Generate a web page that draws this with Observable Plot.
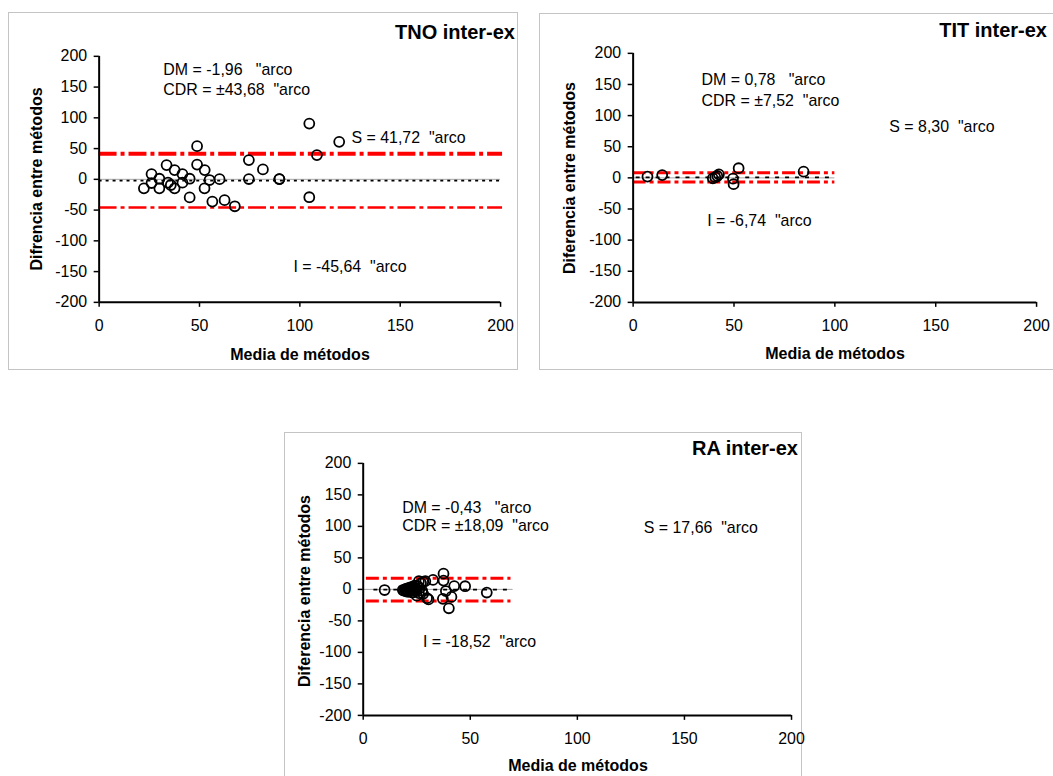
<!DOCTYPE html>
<html><head><meta charset="utf-8">
<script src="https://cdn.jsdelivr.net/npm/d3@7"></script>
<script src="https://cdn.jsdelivr.net/npm/@observablehq/plot@0.6"></script>
<style>
body{margin:0;width:1053px;height:776px;overflow:hidden;background:#fff;position:relative;font-family:"Liberation Sans",Arial,sans-serif;color:#000;}
.panel{position:absolute;box-sizing:border-box;border:1px solid #c4c4c4;}
.panel svg{position:absolute;left:-1px;top:-1px;overflow:visible;}
.panel svg text{white-space:pre;}
.title{position:absolute;font-weight:bold;font-size:20px;line-height:1;white-space:nowrap;}
.ytitle,.xtitle{position:absolute;font-weight:bold;font-size:16px;line-height:1;white-space:nowrap;}
.ytitle{transform:translate(-50%,-50%) rotate(-90deg);}
.xtitle{transform:translate(-50%,-50%);}
</style>
</head><body>
<script>
// ---- data ----
const panelNames = ["TNO inter-ex", "TIT inter-ex", "RA inter-ex"];
const yTitles = ["Difrencia entre métodos", "Diferencia entre métodos", "Diferencia entre métodos"];
const xTitle = "Media de métodos";
const dmValues = [-1.96, 0.78, -0.43];
const cdrValues = [43.68, 7.52, 18.09];
const sValues = [41.72, 8.30, 17.66];
const iValues = [-45.64, -6.74, -18.52];
const xTicks = [0, 50, 100, 150, 200];
const yTicks = [-200, -150, -100, -50, 0, 50, 100, 150, 200];

const tnoMean = [22.3, 26.1, 26.1, 30.0, 30.0, 33.6, 34.3, 35.7, 37.6, 37.6, 41.5, 41.5, 45.1, 45.1, 48.8, 48.8, 52.6, 52.5, 55.0, 56.4, 60.0, 62.5, 67.6, 74.6, 74.6, 81.6, 89.8, 89.8, 104.7, 104.7, 108.5, 119.6];
const tnoDiff = [-14.6, 8.6, -6.0, 1.0, -14.6, 23.2, -5.4, -9.2, 15.1, -14.6, 8.6, -5.4, 1.0, -29.4, 54.0, 24.0, 15.1, -14.6, -1.1, -36.2, 0.3, -33.8, -43.8, 31.3, 0.5, 16.2, 0.5, 0.5, 90.7, -29.1, 39.4, 61.0];

const titMean = [7.1, 14.4, 39.5, 40.7, 41.7, 42.5, 49.5, 49.8, 52.3, 84.5];
const titDiff = [2.1, 4.5, -0.8, 1.0, 3.0, 5.6, -1.3, -10.2, 15.5, 10.0];

const raMean = [10.0, 18.5, 19.0, 19.5, 20.0, 20.0, 20.5, 21.0, 21.0, 21.5, 22.0, 22.0, 22.5, 23.0, 23.0, 23.5, 24.0, 24.0, 24.5, 25.0, 25.0, 25.5, 26.0, 26.0, 26.5, 27.0, 27.5, 28.0, 28.0, 29.0, 29.8, 30.5, 32.6, 37.5, 37.5, 38.6, 37.2, 41.2, 40.0, 42.5, 47.6, 57.7];
const raDiff = [-1.0, -1.0, -2.0, 0.0, 1.0, -3.0, -1.0, 2.0, -4.0, 0.0, 3.0, -2.0, 1.0, -5.0, 4.0, -1.0, 2.0, 6.0, -3.0, 0.0, -10.0, 5.0, -6.0, 13.0, 2.0, 10.0, -2.0, 12.0, -7.0, 13.0, -14.0, -16.0, 15.0, 25.0, 14.0, -2.6, -15.0, -12.0, -30.0, 5.3, 5.0, -5.0];

// ---- layout ----
const fmt = v => v.toFixed(2).replace(".", ",");
const panels = [
  {mean: tnoMean, diff: tnoDiff, left: 8, top: 12, w: 510, h: 358, ml: 91, mr: 16, mt: 44, mb: 67,
   grayEnd: 200, lineRange: [0, 201], dotRange: [0, 201], upW: 4, loW: 2.5, dash: "18,4,4,4", meanDash: "3,4",
   ann: [[32, 178], [32, 146], [125.7, 67.5], [96.8, -142.5]],
   titleRight: 515, titleY: 32, yT: [37, 179], xT: [300, 355]},
  {mean: titMean, diff: titDiff, left: 539, top: 13, w: 520, h: 357, ml: 94, mr: 21, mt: 40, mb: 67,
   grayEnd: 100, lineRange: [0, 100], dotRange: [1.5, 99], upW: 3, loW: 3, dash: "13,4,4,4", meanDash: "4,6",
   ann: [[33.9, 158], [33.9, 124], [127, 82], [36.7, -68.5]],
   titleRight: 1047, titleY: 30, yT: [570, 177.5], xT: [835, 354]},
  {mean: raMean, diff: raDiff, left: 284, top: 432, w: 518, h: 349, ml: 79, mr: 9, mt: 31, mb: 65,
   grayEnd: 70, lineRange: [1.5, 69], dotRange: [5, 68], upW: 3, loW: 3, dash: "13,4,4,4", meanDash: "4,6",
   ann: [[18.2, 130], [18.2, 100], [131, 98], [27.9, -83]],
   titleRight: 798, titleY: 448, yT: [305, 590.5], xT: [578, 766]}
];

panels.forEach((p, k) => {
  const pts = p.mean.map((x, i) => ({x, y: p.diff[i]}));
  const texts = [
    `DM = ${fmt(dmValues[k])}   "arco`,
    `CDR = ±${fmt(cdrValues[k])}  "arco`,
    `S = ${fmt(sValues[k])}  "arco`,
    `I = ${fmt(iValues[k])}  "arco`
  ];
  const annData = texts.map((t, i) => ({text: t, x: p.ann[i][0], y: p.ann[i][1]}));
  const chart = Plot.plot({
    width: p.w, height: p.h,
    marginLeft: p.ml, marginRight: p.mr, marginTop: p.mt, marginBottom: p.mb,
    style: {fontFamily: '"Liberation Sans", Arial, sans-serif', fontSize: "16px", color: "#000", background: "transparent", overflow: "visible"},
    x: {domain: [0, 200]},
    y: {domain: [-200, 200]},
    marks: [
      Plot.ruleY([{y: 0, x1: 0, x2: p.grayEnd}], {y: "y", x1: "x1", x2: "x2", stroke: "#a6a6a6", strokeWidth: 1}),
      Plot.ruleY([{y: dmValues[k], x1: p.dotRange[0], x2: p.dotRange[1]}], {y: "y", x1: "x1", x2: "x2", stroke: "#000", strokeWidth: 1.8, strokeDasharray: p.meanDash}),
      Plot.ruleY([{y: sValues[k], x1: p.lineRange[0], x2: p.lineRange[1]}], {y: "y", x1: "x1", x2: "x2", stroke: "#ff0000", strokeWidth: p.upW, strokeDasharray: p.dash}),
      Plot.ruleY([{y: iValues[k], x1: p.lineRange[0], x2: p.lineRange[1]}], {y: "y", x1: "x1", x2: "x2", stroke: "#ff0000", strokeWidth: p.loW, strokeDasharray: p.dash}),
      Plot.dot(pts, {x: "x", y: "y", r: 5, stroke: "#000", strokeWidth: 1.8, fill: "none"}),
      Plot.axisY({ticks: yTicks, tickSize: 5, tickPadding: 7, tickFormat: d => String(d), label: null, stroke: "#000", strokeWidth: 1.5}),
      Plot.axisX({ticks: xTicks, tickSize: 5, tickPadding: 12, tickFormat: d => String(d), label: null, stroke: "#000", strokeWidth: 1.5}),
      Plot.ruleX([0], {stroke: "#000", strokeWidth: 2}),
      Plot.ruleY([-200], {stroke: "#000", strokeWidth: 2}),
      Plot.text(annData, {x: "x", y: "y", text: "text", textAnchor: "start", fontSize: 16, fill: "#000"})
    ]
  });
  const div = document.createElement("div");
  div.className = "panel";
  Object.assign(div.style, {left: p.left + "px", top: p.top + "px", width: p.w + "px", height: p.h + "px"});
  div.appendChild(chart);
  document.body.appendChild(div);

  const t = document.createElement("div");
  t.className = "title";
  t.textContent = panelNames[k];
  Object.assign(t.style, {right: (1053 - p.titleRight) + "px", top: (p.titleY - 9.8) + "px"});
  document.body.appendChild(t);

  const yt = document.createElement("div");
  yt.className = "ytitle";
  yt.textContent = yTitles[k];
  Object.assign(yt.style, {left: p.yT[0] + "px", top: p.yT[1] + "px"});
  document.body.appendChild(yt);

  const xt = document.createElement("div");
  xt.className = "xtitle";
  xt.textContent = xTitle;
  Object.assign(xt.style, {left: p.xT[0] + "px", top: p.xT[1] + "px"});
  document.body.appendChild(xt);
});
</script>
</body></html>
